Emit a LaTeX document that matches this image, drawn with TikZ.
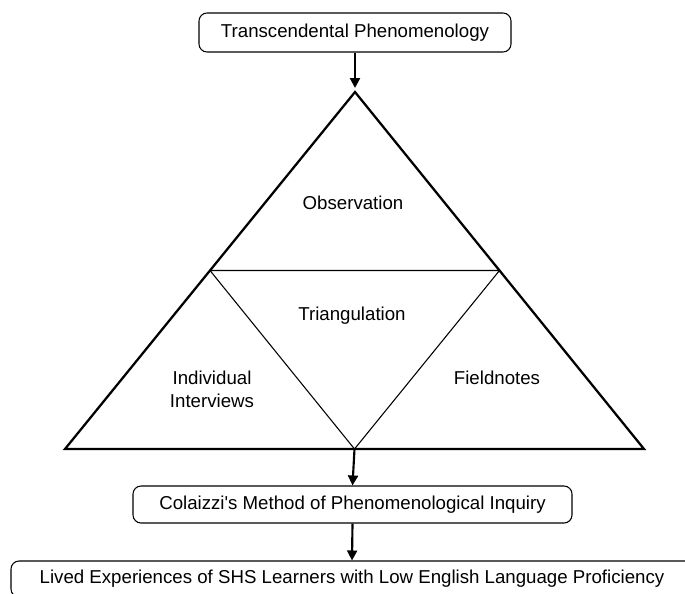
\documentclass[tikz,border=0pt]{standalone}
\usepackage{fontspec}
\setmainfont{Liberation Sans}
\usepackage{tikz}
\usetikzlibrary{shapes,arrows,arrows.meta}

\begin{document}
\begin{tikzpicture}[x=0.75pt,y=0.75pt,yscale=-1,xscale=1,
  stagebox/.style={draw,rounded corners=6pt,line width=0.8pt,inner sep=0pt,font=\fontsize{14}{17}\selectfont},
  lbl/.style={inner sep=0.75pt,align=center,font=\fontsize{14}{17}\selectfont},
  flow/.style={-{Triangle[length=7.5pt,width=7.5pt]},line width=1.6pt}]
%set diagram size 685 x 593
\clip (0,0) rectangle (685,593);

%Shape: Rounded Rect [id:top]
\node [stagebox,minimum width=234pt,minimum height=29.25pt] (transc) at (355,32.5) {Transcendental Phenomenology};
%Shape: Rounded Rect [id:method]
\node [stagebox,minimum width=329.25pt,minimum height=27.75pt] (colaizzi) at (352.5,504.5) {Colaizzi\textquotesingle s Method of Phenomenological Inquiry};
%Shape: Rounded Rect [id:result]
\node [stagebox,minimum width=511.5pt,minimum height=27pt] (lived) at (352,579) {Lived Experiences of SHS Learners with Low English Language Proficiency};

%Points of the triangle
\coordinate (apex) at (355,92);
\coordinate (baseL) at (65,449);
\coordinate (baseR) at (644,449);
\coordinate (midL) at (210,270.5);
\coordinate (midR) at (499.5,270.5);
\coordinate (midB) at (354.5,449);

%Shape: Triangle [id:outer]
\draw [line width=1.7pt,line join=miter] (apex) -- (baseR) -- (baseL) -- cycle ;
%Shape: Triangle [id:inner]
\draw [line width=0.8pt] (midL) -- (midR) -- (midB) -- cycle ;

%Straight Lines [id:arrow1]
\draw [flow,shorten >=3pt] (transc.south) -- (apex) ;
%Straight Lines [id:arrow2]
\draw [flow] (midB) -- (colaizzi.north) ;
%Straight Lines [id:arrow3]
\draw [flow] (colaizzi.south) -- (lived.north) ;

% Text Node
\node [lbl] (obs) at (353,203) {Observation};
% Text Node
\node [lbl] (tri) at (352,316) {Triangulation};
% Text Node
\node [lbl] (intv) at (212,389) {Individual\\Interviews};
% Text Node
\node [lbl] (field) at (497,378) {Fieldnotes};

\end{tikzpicture}
\end{document}
